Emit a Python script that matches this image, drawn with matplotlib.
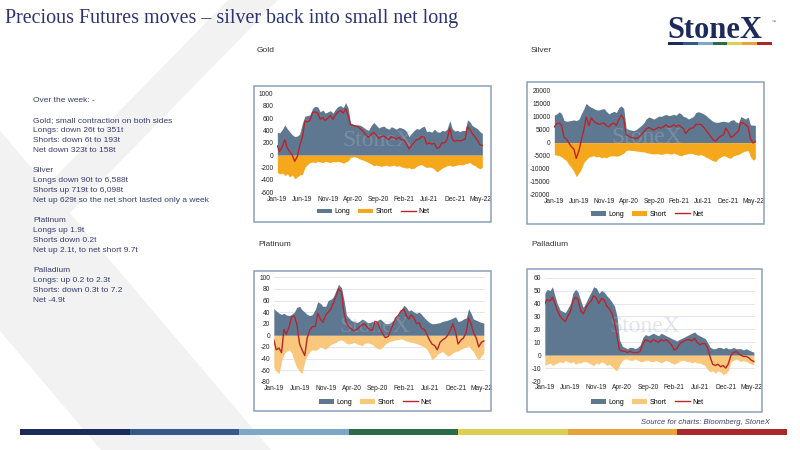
import numpy as np
import pandas as pd
import matplotlib
matplotlib.use("Agg")
import matplotlib.pyplot as plt
from matplotlib.patches import Polygon, Rectangle, Patch
from matplotlib.lines import Line2D

plt.rcParams['font.family'] = ['Liberation Sans', 'DejaVu Sans']
plt.rcParams['axes.unicode_minus'] = False

W, H = 800, 450

# semi-monthly observations, Jan-19 .. mid May-22
dates = pd.to_datetime([f"{y}-{m:02d}-{d:02d}" for y in range(2019, 2023)
                        for m in range(1, 13) for d in (1, 15)])
dates = dates[dates <= "2022-05-15"]

tick_dates = pd.to_datetime(["2019-01-01", "2019-06-01", "2019-11-01", "2020-04-01", "2020-09-01",
                             "2021-02-01", "2021-07-01", "2021-12-01", "2022-05-01"])
tick_labels = ["Jan-19", "Jun-19", "Nov-19", "Apr-20", "Sep-20", "Feb-21", "Jul-21", "Dec-21", "May-22"]

# ---- Gold (t)
gold_long = [370, 360, 420, 490, 430, 380, 330, 300, 310, 340, 520, 630,
             640, 650, 760, 790, 780, 700, 730, 680, 700, 720, 680, 740,
             790, 800, 770, 850, 760, 520, 500, 490, 490, 480, 450, 420,
             400, 470, 530, 490, 440, 460, 470, 440, 420, 460, 440, 420,
             450, 440, 420, 380, 300, 350, 400, 430, 420, 450, 470, 380,
             390, 370, 420, 380, 370, 400, 390, 420, 560, 430, 390, 400,
             380, 400, 400, 570, 540, 480, 450, 430, 380, 351]
gold_short = [-280, -300, -290, -330, -300, -350, -320, -380, -350, -320, -310, -200,
              -150, -120, -110, -120, -100, -110, -120, -100, -110, -120, -100, -110,
              -100, -110, -130, -110, -90, -40, -25, -30, -50, -70, -80, -100,
              -120, -140, -170, -160, -170, -180, -170, -160, -180, -170, -160, -180,
              -170, -190, -200, -210, -200, -220, -210, -180, -160, -150, -180, -200,
              -190, -200, -230, -270, -240, -210, -190, -170, -160, -180, -170, -160,
              -150, -160, -140, -130, -120, -150, -170, -200, -220, -193]
gold_net = [150, 60, 150, 250, 120, 60, 0, -100, -20, 150, 300, 550,
            540, 560, 690, 700, 680, 580, 610, 560, 600, 640, 580, 650,
            700, 720, 680, 750, 640, 490, 480, 470, 460, 420, 380, 330,
            290, 330, 370, 330, 270, 300, 310, 280, 250, 300, 280, 260,
            290, 250, 240, 180, 100, 150, 210, 250, 260, 300, 290, 180,
            200, 180, 190, 110, 130, 200, 200, 250, 440, 260, 220, 240,
            230, 240, 260, 460, 420, 350, 300, 240, 170, 158]

# ---- Silver (t)
silver_long = [10500, 11000, 11800, 11000, 8500, 8200, 8300, 8500, 8700, 8400, 9000, 11000,
               13000, 15000, 14000, 13500, 13000, 12500, 12500, 12800, 13000, 12000, 11000, 11500,
               12000, 11500, 13500, 14000, 13000, 5500, 5000, 4800, 4600, 5000, 5800, 6500,
               7500, 9000, 9800, 9500, 9000, 9500, 10200, 10000, 10500, 10800, 10300, 10500,
               10800, 10500, 11500, 11000, 10000, 9800, 9000, 9500, 10000, 11500, 11800, 11500,
               11000, 10500, 9500, 8800, 8000, 7800, 7800, 8000, 8200, 8000, 7800, 8500,
               8800, 8000, 7500, 10000, 9500, 9000, 9800, 6800, 6700, 6588]
silver_short = [-4500, -4800, -5000, -5500, -6200, -6800, -8500, -9500, -11000, -13000, -11500, -10000,
                -7500, -6500, -5500, -5200, -5000, -5500, -5200, -5800, -5500, -5800, -5200, -5000,
                -5000, -5200, -5000, -4500, -4000, -3000, -2800, -3000, -3000, -3200, -3300, -3500,
                -3500, -3800, -4000, -4200, -4300, -4200, -4300, -4500, -4300, -4000, -4200, -4400,
                -4000, -4300, -4800, -5000, -4600, -4400, -4200, -4000, -4300, -4600, -4800, -4500,
                -5000, -5500, -6000, -6500, -7000, -7200, -6000, -5500, -5000, -5200, -5800, -6000,
                -5000, -4800, -4500, -4000, -3500, -3200, -3000, -5400, -6700, -6098]
silver_net = [6000, 7200, 7500, 6500, 2000, 1500, -200, -1500, -2500, -6000, -3000, 1000,
              5000, 9800, 6500, 9500, 8000, 7500, 7000, 7200, 7500, 6500, 6000, 7000,
              7500, 6500, 9000, 10500, 9000, 3000, 2500, 2000, 1800, 1600, 2000, 3000,
              4000, 5200, 5800, 5300, 4800, 5300, 5900, 5500, 6200, 6800, 6000, 6100,
              6800, 6200, 6700, 6000, 5400, 3500, 4800, 5500, 5700, 6900, 7000, 7000,
              6000, 5000, 3500, 2300, 1000, 600, 1800, 2500, 3000, 5500, 4000, 2000,
              2500, 3500, 4500, 7800, 7500, 7000, 6000, 1500, -139, 490]

# ---- Platinum (t)
plat_long = [46, 42, 38, 36, 38, 35, 34, 36, 40, 48, 50, 44,
             40, 36, 34, 36, 45, 58, 55, 50, 50, 60, 62, 66,
             78, 88, 82, 62, 35, 30, 25, 24, 22, 24, 28, 26,
             22, 22, 24, 22, 26, 28, 24, 20, 20, 22, 26, 30,
             36, 44, 52, 48, 42, 44, 40, 38, 40, 36, 30, 26,
             22, 20, 20, 21, 22, 24, 25, 26, 28, 30, 32, 24,
             25, 28, 30, 46, 38, 28, 26, 24, 22, 21]
plat_short = [-55, -62, -66, -45, -32, -28, -25, -30, -45, -55, -62, -66,
              -45, -35, -28, -25, -26, -24, -20, -22, -24, -20, -16, -14,
              -12, -9, -8, -10, -14, -15, -14, -12, -15, -16, -18, -14,
              -13, -14, -16, -20, -23, -24, -20, -15, -12, -10, -9, -8,
              -7, -6, -8, -10, -11, -12, -13, -14, -16, -18, -20, -24,
              -32, -42, -38, -33, -30, -28, -32, -36, -34, -30, -28, -27,
              -24, -22, -20, -18, -24, -28, -38, -42, -35, -31]
plat_net = [-8, -25, -22, -30, 10, 2, 15, 32, 33, 20, -15, -25,
            -35, -5, 10, 15, 15, 38, 28, 22, 35, 40, 45, 55,
            68, 80, 75, 40, 22, 15, 10, 8, 10, 14, 18, 20,
            14, 10, 8, 24, 22, 10, 2, -4, -2, 8, 20, 30,
            35, 42, 45, 34, 28, 35, 30, 20, 22, 12, 10, 2,
            -8, -15, -18, -25, -12, -8, -5, 0, 10, 20, 5, -15,
            -8, -5, 5, 30, 20, 5, -5, -20, -12, -9.7]

# ---- Palladium (t)
pall_long = [48, 51, 50, 53, 46, 40, 35, 34, 33, 36, 40, 48,
             51, 49, 42, 37, 41, 45, 49, 53, 52, 48, 50, 49,
             46, 44, 41, 38, 30, 12, 7, 6, 5, 6, 6, 5,
             6, 8, 14, 16, 15, 16, 17, 16, 15, 17, 16, 15,
             14, 13, 12, 11, 12, 13, 14, 15, 16, 17, 18, 16,
             15, 14, 13, 10, 6, 5, 5, 6, 6, 5, 6, 5,
             5, 6, 5, 5, 5, 4, 5, 4, 3, 2.3]
pall_short = [-8, -7, -6, -8, -7, -6, -5, -6, -4, -5, -6, -5,
              -7, -6, -6, -5, -5, -6, -7, -8, -6, -7, -5, -6,
              -8, -7, -9, -11, -12, -8, -4, -3, -3, -4, -4, -3,
              -4, -5, -5, -4, -4, -5, -5, -4, -5, -6, -5, -4,
              -5, -6, -7, -6, -5, -4, -4, -5, -5, -6, -5, -6,
              -6, -7, -8, -11, -13, -12, -14, -12, -13, -15, -14, -12,
              -5, -4, -3, -4, -5, -4, -5, -6, -7, -7.2]
pall_net = [40, 43, 42, 45, 40, 35, 30, 28, 26, 30, 34, 42,
            45, 43, 34, 32, 37, 40, 42, 46, 44, 40, 44, 43,
            38, 36, 32, 25, 15, 4, 3, 3, 2, 3, 2, 2,
            2, 3, 9, 12, 11, 10, 12, 11, 10, 12, 11, 12,
            10, 8, 4, 5, 8, 10, 11, 12, 12, 11, 13, 10,
            8, 9, 9, 6, -2, -7, -8, -7, -9, -8, -10, -7,
            0, 2, 3, 1, 0, -1, -1, -2, -4, -4.9]

LONG = "#5f7891"
ORANGE = "#f5a81c"
LIGHT_ORANGE = "#f9c87c"
NET = "#b9252b"
FRAME = "#8c9fba"
NAVY = "#2c3470"
RAINBOW = ["#1f2a5c", "#34588a", "#7ba7c9", "#2b6b48", "#dbcf55", "#eaa23a", "#a8282e"]

fig = plt.figure(figsize=(8, 4.5), dpi=100)
fig.patch.set_facecolor("white")


def fx(x):
    return x / W


def fy(y):
    return 1 - y / H


def px_poly(pts, color, z):
    fig.patches.append(Polygon([(fx(x), fy(y)) for x, y in pts], closed=True, transform=fig.transFigure,
                               facecolor=color, edgecolor="none", zorder=z))


def rainbow_bar(x0, x1, y0, y1, alpha=1.0, z=2):
    seg = (x1 - x0) / len(RAINBOW)
    for i, c in enumerate(RAINBOW):
        fig.patches.append(Rectangle((fx(x0 + i * seg), fy(y1)), seg / W, (y1 - y0) / H,
                                     transform=fig.transFigure, facecolor=c, edgecolor="none",
                                     alpha=alpha, zorder=z))


# background X watermark
px_poly([(-281, 0), (-111, 0), (271, 450), (101, 450)], "#f2f2f2", -5)
px_poly([(228, 0), (278, 0), (70, 213), (20, 213)], "#f2f2f2", -5)

# header
fig.text(fx(5), fy(23), "Precious Futures moves \u2013 silver back into small net long",
         family=["Liberation Serif", "DejaVu Serif"], fontsize=14.4, color=NAVY, va="baseline")
fig.text(fx(667), fy(38), "StoneX", family=["Liberation Serif", "DejaVu Serif"], weight="bold",
         fontsize=22, color="#1d2a5c", va="baseline")
fig.text(fx(772), fy(22), "\u2122", fontsize=3, color="#1d2a5c", va="center")
rainbow_bar(668, 772, 42, 44.5)

# commentary
notes = ["Over the week: -", "",
         "Gold; small contraction on both sides", "Longs: down 26t to 351t", "Shorts: down 6t to 193t",
         "Net down 323t to 158t", "",
         "Silver", "Longs down 90t to 6,588t", "Shorts up 719t to 6,098t",
         "Net up 629t so the net short lasted only a week", "",
         "Platinum", "Longs up 1.9t", "Shorts down 0.2t", "Net up 2.1t, to net short 9.7t", "",
         "Palladium", "Longs: up 0.2 to 2.3t", "Shorts: down 0.3t to 7.2", "Net -4.9t"]
for i, line in enumerate(notes):
    fig.text(fx(33), fy(100.7 + 10 * i), line, fontsize=6, color="#383d6e", va="center")


def chart(name, title_xy, frame, box, longs, shorts, nets, short_col, ylim, ystep, grid, legend_xy, wm_xy):
    x0, y0, x1, y1 = frame
    fig.patches.append(Rectangle((fx(x0), fy(y1)), (x1 - x0) / W, (y1 - y0) / H, transform=fig.transFigure,
                                 fill=False, edgecolor=FRAME, lw=1.1, zorder=3))
    fig.text(fx(title_xy[0]), fy(title_xy[1]), name, fontsize=6, color="#333333", va="center")

    bx0, by0, bx1, by1 = box
    ax = fig.add_axes([fx(bx0), fy(by1), (bx1 - bx0) / W, (by1 - by0) / H])
    ax.fill_between(dates, 0, longs, color=LONG, lw=0, zorder=2)
    ax.fill_between(dates, 0, shorts, color=short_col, lw=0, zorder=2)
    ax.text(fx(wm_xy[0]), fy(wm_xy[1]), "StoneX", transform=fig.transFigure, ha="center", va="center",
            family=["Liberation Serif", "DejaVu Serif"], fontsize=17, color="#a9b4c4", alpha=0.35, zorder=3)
    ax.plot(dates, nets, color=NET, lw=1.0, zorder=4)

    ax.set_xlim(dates[0] - pd.Timedelta(days=2), dates[-1] + pd.Timedelta(days=4))
    ax.set_ylim(*ylim)
    ax.set_yticks(np.arange(ylim[0], ylim[1] + ystep, ystep))
    ax.set_xticks(tick_dates)
    ax.set_xticklabels(tick_labels)
    ax.tick_params(length=0, labelsize=4.8, colors="#222222", pad=2.5)
    for s in ax.spines.values():
        s.set_visible(False)
    if grid:
        ax.yaxis.grid(True, color="#dfe1f0", lw=0.6)
        ax.set_axisbelow(True)
    ax.patch.set_alpha(0)

    handles = [Patch(facecolor=LONG), Patch(facecolor=short_col), Line2D([0], [0], color=NET, lw=1.0)]
    fig.legend(handles, ["Long", "Short", "Net"], loc="center", bbox_to_anchor=(fx(legend_xy[0]), fy(legend_xy[1])),
               ncol=3, frameon=False, fontsize=5, handlelength=2.2, handleheight=0.6,
               handletextpad=0.3, columnspacing=1.2)


chart("Gold", (257, 50), (254, 86, 491, 222), (277, 93.3, 483, 192.3),
      gold_long, gold_short, gold_net, ORANGE, (-600, 1000), 200, False, (373, 211.7), (378, 140))
chart("Silver", (531, 51), (527, 82, 764, 224), (554, 90.3, 756, 195),
      silver_long, silver_short, silver_net, ORANGE, (-20000, 20000), 5000, False, (647, 214.3), (647, 137))
chart("Platinum", (258, 244), (254, 271, 491, 411), (273.5, 277.3, 484.5, 381.7),
      plat_long, plat_short, plat_net, LIGHT_ORANGE, (-80, 100), 20, True, (375, 402.3), (375, 326))
chart("Palladium", (531, 245), (527, 269, 762, 412), (544.5, 277.7, 754.5, 381),
      pall_long, pall_short, pall_net, LIGHT_ORANGE, (-20, 60), 10, True, (647, 402.3), (645, 326))

# footer
fig.text(fx(770), fy(423), "Source for charts: Bloomberg, StoneX", ha="right", va="center",
         fontsize=5.5, style="italic", color="#3b3f70")
rainbow_bar(20, 786.5, 429, 435)

fig.savefig("out.png", dpi=100)
